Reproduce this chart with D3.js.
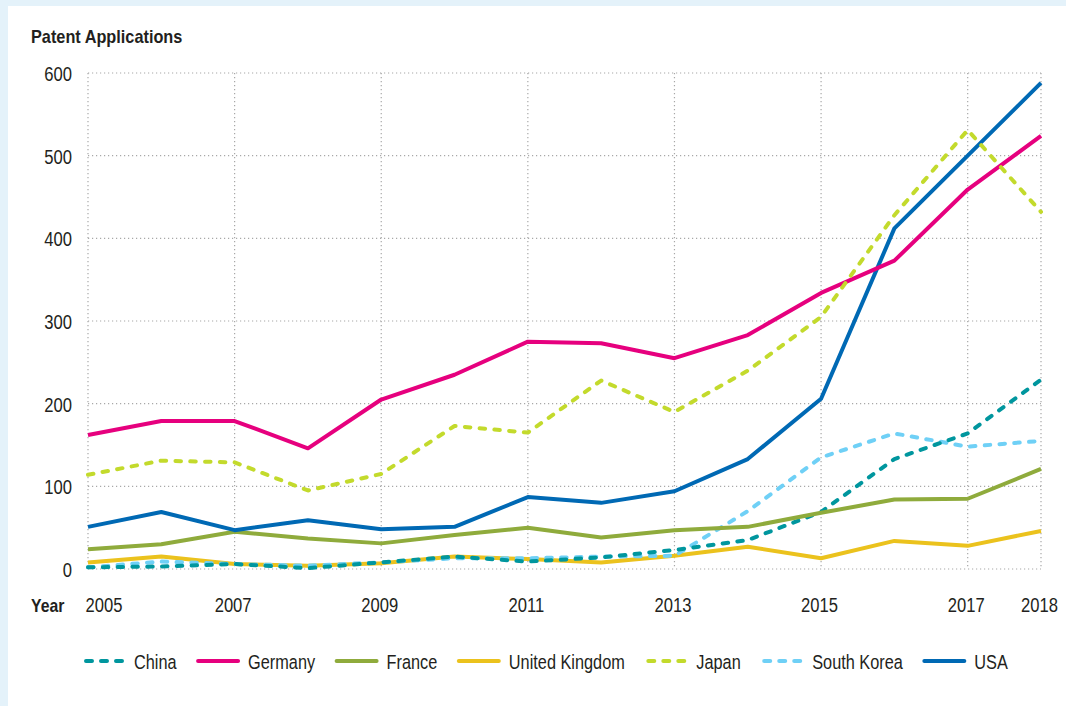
<!DOCTYPE html>
<html>
<head>
<meta charset="utf-8">
<script src="https://cdn.jsdelivr.net/npm/d3@7"></script>
<style>
  html, body { margin: 0; padding: 0; background: #e4f2fa; }
  svg { display: block; }
  text { font-family: "Liberation Sans", Arial, sans-serif; fill: #231f20; }
</style>
</head>
<body>
<svg id="chart" width="1066" height="706"></svg>
<script>
const years = [2005, 2006, 2007, 2008, 2009, 2010, 2011, 2012, 2013, 2014, 2015, 2016, 2017, 2018];
const tickYears = [2005, 2007, 2009, 2011, 2013, 2015, 2017, 2018];
const yTicks = [0, 100, 200, 300, 400, 500, 600];
const seriesNames = ["China", "Germany", "France", "United Kingdom", "Japan", "South Korea", "USA"];
const china      = [2, 3, 6, 1, 8, 15, 9, 14, 23, 35, 69, 133, 164, 229];
const germany    = [162, 179, 179, 146, 205, 235, 275, 273, 255, 283, 334, 373, 459, 524];
const france     = [24, 30, 45, 37, 31, 41, 50, 38, 47, 51, 68, 84, 85, 121];
const uk         = [8, 15, 6, 4, 7, 15, 12, 8, 16, 27, 13, 34, 28, 46];
const japan      = [114, 131, 129, 95, 115, 173, 165, 228, 190, 240, 305, 428, 531, 432];
const southKorea = [2, 9, 6, 4, 8, 13, 13, 15, 16, 70, 135, 164, 148, 155];
const usa        = [51, 69, 47, 59, 48, 51, 87, 80, 94, 133, 206, 412, 500, 588];
const seriesValues = [china, germany, france, uk, japan, southKorea, usa];
const seriesColors = ["#00969e", "#e6007e", "#8fab3c", "#ebc21d", "#c3da2c", "#6fd0f6", "#0069b4"];
const seriesDashed = [true, false, false, false, true, true, false];

// horizontally condense text to imitate the narrow typeface of the original
function squeeze(sel, k) {
  let last = 0;
  sel.each(function () {
    const w = this.getComputedTextLength();
    last = w * k;
    this.setAttribute("textLength", last.toFixed(2));
    this.setAttribute("lengthAdjust", "spacingAndGlyphs");
  });
  return last;
}

const svg = d3.select("#chart");
svg.append("rect").attr("x", 8).attr("y", 6).attr("width", 1066 - 8).attr("height", 706 - 6).attr("fill", "#ffffff");

const pLeft = 88, pRight = 1041, pTop = 73, pBottom = 569;
const x = d3.scaleLinear().domain([2005, 2018]).range([pLeft, pRight]);
const y = d3.scaleLinear().domain([0, 600]).range([pBottom, pTop]);

// gridlines
const grid = svg.append("g").attr("stroke", "#a8a8a8").attr("stroke-width", 1.2).attr("stroke-dasharray", "1.2,2.8");
grid.selectAll("line.h").data(yTicks).join("line").attr("class", "h")
  .attr("x1", pLeft).attr("x2", pRight)
  .attr("y1", d => y(d)).attr("y2", d => y(d));
grid.selectAll("line.v").data(tickYears).join("line").attr("class", "v")
  .attr("y1", pTop).attr("y2", pBottom)
  .attr("x1", d => x(d)).attr("x2", d => x(d));

// y axis
const yAxis = d3.axisLeft(y).tickValues(yTicks).tickSize(0).tickPadding(16).tickFormat(d3.format("d"));
const gy = svg.append("g").attr("transform", `translate(${pLeft},0)`).call(yAxis);
gy.select(".domain").remove();
gy.attr("font-family", null).attr("font-size", null);
squeeze(gy.selectAll("text").attr("font-size", 20.5).attr("fill", "#231f20").attr("dy", "0.36em"), 0.81);

// x axis
const xAxis = d3.axisBottom(x).tickValues(tickYears).tickSize(0).tickPadding(0).tickFormat(d3.format("d"));
const gx = svg.append("g").attr("transform", `translate(0,${pBottom})`).call(xAxis);
gx.select(".domain").remove();
gx.attr("font-family", null).attr("font-size", null);
squeeze(gx.selectAll("text").attr("dy", null).attr("y", 42.5).attr("font-size", 20.5)
  .attr("fill", "#231f20")
  .attr("text-anchor", d => d === 2005 ? "start" : "middle")
  .attr("x", d => d === 2005 ? -3 : -2), 0.81);

squeeze(svg.append("text").attr("x", 31).attr("y", 611.5).attr("font-size", 19).attr("font-weight", "bold").text("Year"), 0.83);
squeeze(svg.append("text").attr("x", 31).attr("y", 42.7).attr("font-size", 18.5).attr("font-weight", "bold").text("Patent Applications"), 0.88);

// lines
const line = d3.line().x((d, i) => x(years[i])).y(d => y(d));
const order = [3, 5, 0, 2, 6, 1, 4];
svg.append("g").selectAll("path").data(order).join("path")
  .attr("d", k => line(seriesValues[k]))
  .attr("fill", "none")
  .attr("stroke", k => seriesColors[k])
  .attr("stroke-width", 4)
  .attr("stroke-linejoin", "round")
  .attr("stroke-linecap", k => seriesDashed[k] ? "round" : "butt")
  .attr("stroke-dasharray", k => seriesDashed[k] ? "5.5,9.3" : null);

// legend
const legend = svg.append("g");
let lx = 84;
const ly = 661;
seriesNames.forEach((name, k) => {
  const g = legend.append("g");
  g.append("line").attr("x1", lx + (seriesDashed[k] ? 2 : 0)).attr("x2", lx + 40)
    .attr("y1", ly).attr("y2", ly)
    .attr("stroke", seriesColors[k]).attr("stroke-width", 4)
    .attr("stroke-linecap", "round")
    .attr("stroke-dasharray", seriesDashed[k] ? "6,9" : null);
  const t = g.append("text").attr("x", lx + 50).attr("y", ly + 7.5)
    .attr("font-size", 20.5).text(name);
  const w = squeeze(t, 0.795);
  lx = lx + 50 + w + 21.5;
});
</script>
</body>
</html>
